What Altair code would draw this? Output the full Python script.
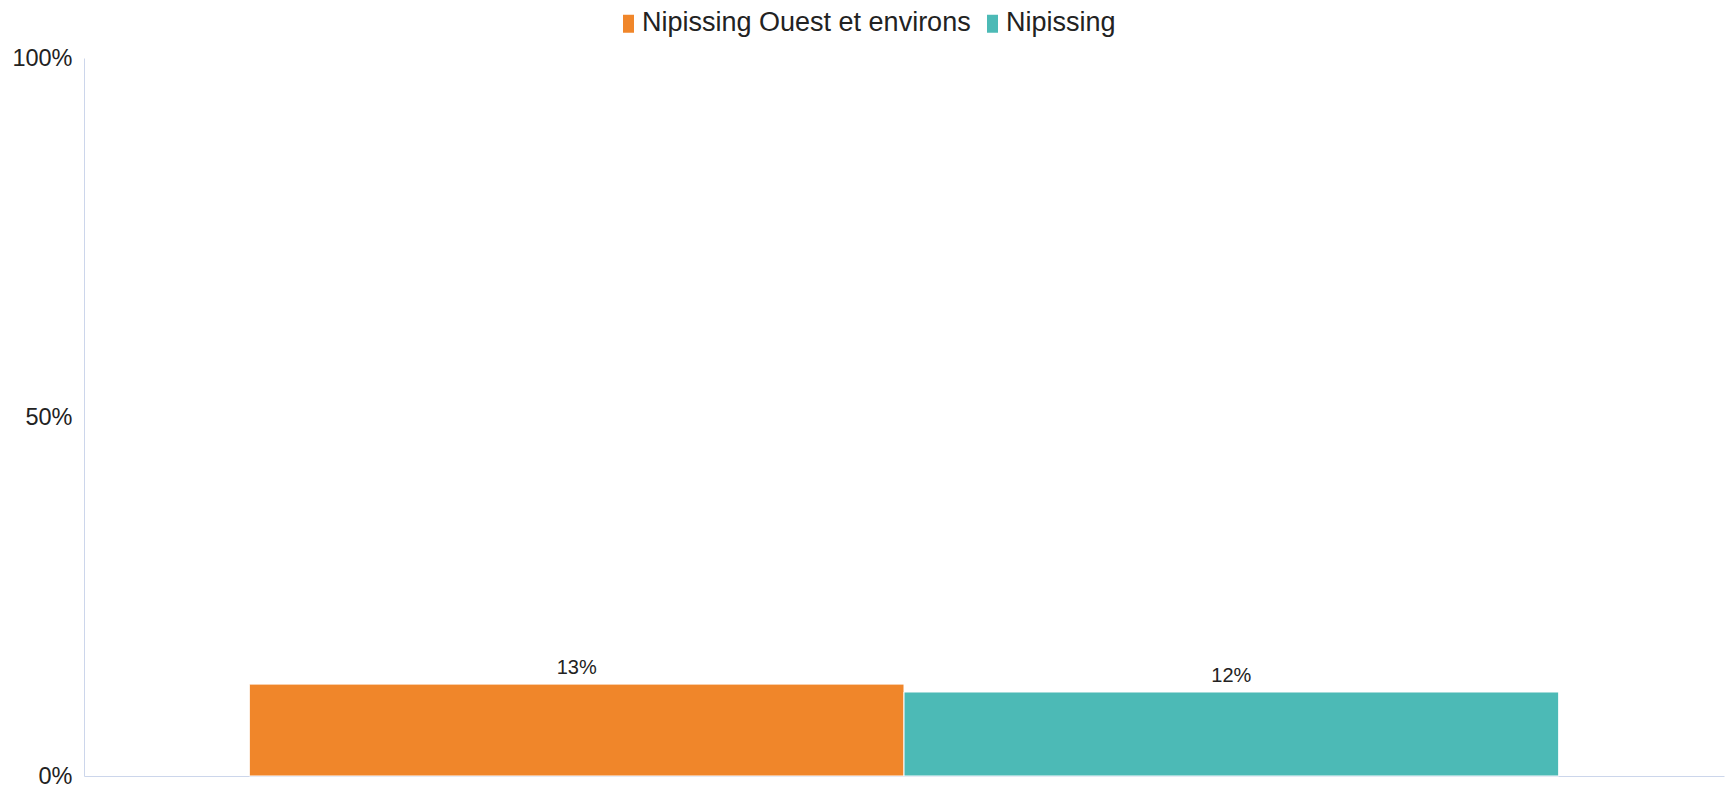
import altair as alt
import pandas as pd

series = ["Nipissing Ouest et environs", "Nipissing"]
values = [12.8, 11.7]
labels = ["13%", "12%"]
colors = ["#F0862A", "#4CBAB6"]

df = pd.DataFrame({"series": series, "value": values, "label": labels})

FONT = "Liberation Sans"

x = alt.X(
    "series:N",
    sort=series,
    title=None,
    scale=alt.Scale(paddingInner=0, paddingOuter=0.2525),
    axis=alt.Axis(labels=False, ticks=False, domainColor="#ccd6eb", domainWidth=1),
)
y = alt.Y(
    "value:Q",
    title=None,
    scale=alt.Scale(domain=[0, 100], nice=False),
    axis=alt.Axis(
        values=[0, 50, 100],
        labelExpr="datum.value + '%'",
        grid=False,
        ticks=False,
        domainColor="#ccd6eb",
        domainWidth=1,
        labelFontSize=23.5,
        labelColor="#222222",
        labelPadding=12,
        labelFont=FONT,
    ),
)

bars = alt.Chart(df).mark_bar(stroke="white", strokeWidth=1).encode(
    x=x,
    y=y,
    color=alt.Color(
        "series:N",
        sort=series,
        scale=alt.Scale(domain=series, range=colors),
        legend=alt.Legend(
            title=None,
            orient="none",
            legendX=531,
            legendY=-49,
            direction="horizontal",
            labelFontSize=27,
            labelFont=FONT,
            labelColor="#222222",
            symbolType="M-0.55,-0.8H0.55V1H-0.55Z",
            symbolSize=400,
            symbolStrokeWidth=0,
            labelOffset=0,
            columnPadding=8,
            labelLimit=1000,
        ),
    ),
)

text = alt.Chart(df).mark_text(
    dy=-16, baseline="middle", fontSize=20, font=FONT, color="#222222"
).encode(x=alt.X("series:N", sort=series), y="value:Q", text="label:N")

chart = (
    alt.layer(bars, text)
    .properties(
        width=1640,
        height=718,
        background="white",
        autosize=alt.AutoSizeParams(type="none"),
        padding={"left": 76, "top": 50, "right": 1, "bottom": 12},
    )
    .configure_view(strokeWidth=0, stroke="transparent")
)

chart.save("out.html", embed_options={"renderer": "svg", "actions": False})
